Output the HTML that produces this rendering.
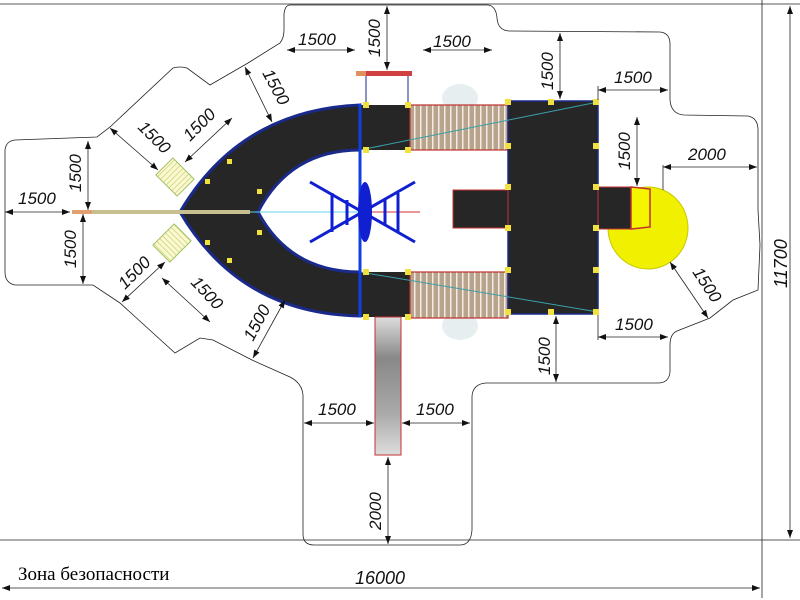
<!DOCTYPE html>
<html><head><meta charset="utf-8"><style>
body{margin:0;background:#fff}
svg{display:block}
.d{font-family:"Liberation Sans",sans-serif;font-style:italic;font-size:17px;fill:#111}
.l{stroke:#222;stroke-width:0.8;fill:none}
</style></head><body>
<svg width="800" height="600" viewBox="0 0 800 600" xmlns="http://www.w3.org/2000/svg">
<defs>
<marker id="a" markerWidth="8" markerHeight="6" refX="8" refY="3" orient="auto-start-reverse" markerUnits="userSpaceOnUse"><path d="M0,0 L8,3 L0,6z" fill="#111"/></marker>
<pattern id="st" width="6" height="10" patternUnits="userSpaceOnUse"><rect width="6" height="10" fill="#b8a48c"/><rect width="1.5" height="10" fill="#f2ece4"/></pattern>
<pattern id="ys" width="10" height="4" patternUnits="userSpaceOnUse"><rect width="10" height="4" fill="#fafad0"/><rect width="10" height="1" fill="#d8d890"/></pattern>
<linearGradient id="gs" x1="0" y1="0" x2="0" y2="1"><stop offset="0" stop-color="#ddd"/><stop offset="0.3" stop-color="#888"/><stop offset="0.7" stop-color="#aaa"/><stop offset="1" stop-color="#ddd"/></linearGradient>
</defs>
<!-- safety zone outline -->
<path class="l" stroke="#444" d="M290,5 L488,5 Q496,6 497,18 Q498,31 510,31 L660,32 Q670,33 670,44 L670,100 Q671,114 684,115 L748,116 Q758,118 758,130 L758,210 L760,245 L758,290 L733,300 L710,318 L677,331 Q670,334 670,345 L670,372 Q669,383 658,383 L486,383 Q473,384 472,396 L472,530 Q471,545 460,545 L314,545 Q303,545 303,534 L303,395 Q302,383 290,377 L252,360 L213,340 L200,338 L175,353 L120,303 L93,285 L15,285 Q5,283 5,272 L5,150 Q6,141 15,140 L97,137 L110,127 L173,68 Q180,66 187,68 L210,85 L248,63 L280,43 Q284,38 284,30 L284,14 Q285,5 290,5 Z"/>
<!-- overall dims -->
<line class="l" x1="0" y1="540" x2="800" y2="540"/>
<line class="l" x1="762" y1="0" x2="762" y2="598"/>
<line class="l" x1="0" y1="4" x2="800" y2="4"/>
<line class="l" x1="790" y1="6" x2="790" y2="538" marker-start="url(#a)" marker-end="url(#a)"/>
<line class="l" x1="2" y1="588" x2="760" y2="588" marker-start="url(#a)" marker-end="url(#a)"/>
<text class="d" x="355" y="584" style="font-size:18px">16000</text>
<text x="18" y="580" style="font-family:'Liberation Serif',serif;font-size:19px">Зона безопасности</text>
<text class="d" transform="translate(787,288) rotate(-90)" style="font-size:18px">11700</text>

<!-- equipment -->
<ellipse cx="460" cy="98" rx="18" ry="14" fill="#e6eef0"/>
<ellipse cx="460" cy="326" rx="18" ry="14" fill="#e6eef0"/>
<path d="M360,105 Q240,110 180,212 Q240,314 360,316 L360,272 Q290,272 258,212 Q290,150 360,150 Z" fill="#262626" stroke="#1a2a8a" stroke-width="3"/>
<rect x="360" y="105" width="50" height="45" fill="#262626"/>
<rect x="360" y="272" width="50" height="45" fill="#262626"/>
<rect x="410" y="105" width="98" height="45" fill="url(#st)" stroke="#c03030" stroke-width="1.2"/>
<rect x="410" y="272" width="98" height="46" fill="url(#st)" stroke="#c03030" stroke-width="1.2"/>
<rect x="508" y="101" width="90" height="213" fill="#262626" stroke="#1a2a8a" stroke-width="1.5"/>
<rect x="453" y="190" width="55" height="38" fill="#262626" stroke="#c03030" stroke-width="1"/>
<ellipse cx="648" cy="228" rx="40" ry="41" fill="#f0f000" stroke="#c8c800"/>
<rect x="598" y="187" width="33" height="42" fill="#262626" stroke="#c03030"/>
<path d="M631,187 L650,189 L650,227 L631,229Z" fill="#f5f500" stroke="#c03030" stroke-width="1.5"/>
<line x1="360" y1="150" x2="598" y2="102" stroke="#3aa0a8"/>
<line x1="360" y1="272" x2="598" y2="312" stroke="#3aa0a8"/>
<rect x="375" y="317" width="26" height="138" fill="url(#gs)" stroke="#c03030"/>
<rect x="356" y="71" width="56" height="5" fill="#d04040"/>
<rect x="356" y="71" width="10" height="5" fill="#e09060"/>
<line x1="366" y1="76" x2="366" y2="105" stroke="#1a2a8a"/>
<line x1="408" y1="76" x2="408" y2="105" stroke="#1a2a8a"/>
<line x1="360" y1="104" x2="360" y2="317" stroke="#1040e0" stroke-width="3"/>
<!-- rod -->
<line x1="72" y1="212" x2="92" y2="212" stroke="#e0a070" stroke-width="4"/>
<line x1="92" y1="212" x2="250" y2="212" stroke="#c8bf90" stroke-width="4"/>
<line x1="250" y1="212" x2="420" y2="212" stroke="#60d0e8" stroke-width="1"/>
<line x1="360" y1="212" x2="420" y2="212" stroke="#d03030" stroke-width="1"/>
<!-- ladders -->
<rect x="163" y="162" width="24" height="30" fill="url(#ys)" stroke="#a0c060" transform="rotate(-45 175 177)"/>
<rect x="160" y="228" width="24" height="30" fill="url(#ys)" stroke="#a0c060" transform="rotate(45 172 243)"/>
<!-- swing -->
<g stroke="#1020d0" stroke-width="3" fill="none">
<line x1="310" y1="182" x2="415" y2="242"/><line x1="310" y1="242" x2="415" y2="182"/>
<path d="M332,193 V232 M347,200 V225 M385,200 V225 M398,193 V232"/>
</g>
<ellipse cx="365" cy="212" rx="7" ry="30" fill="#1020d0"/>
<!-- yellow bolts -->
<g fill="#f0e040">
<rect x="363" y="102" width="6" height="6"/><rect x="405" y="102" width="6" height="6"/><rect x="363" y="147" width="6" height="6"/><rect x="405" y="147" width="6" height="6"/>
<rect x="363" y="269" width="6" height="6"/><rect x="405" y="269" width="6" height="6"/><rect x="363" y="314" width="6" height="6"/><rect x="405" y="314" width="6" height="6"/>
<rect x="505" y="99" width="6" height="6"/><rect x="548" y="99" width="6" height="6"/><rect x="593" y="99" width="6" height="6"/>
<rect x="505" y="143" width="6" height="6"/><rect x="593" y="143" width="6" height="6"/><rect x="505" y="184" width="6" height="6"/><rect x="593" y="184" width="6" height="6"/>
<rect x="505" y="225" width="6" height="6"/><rect x="593" y="225" width="6" height="6"/><rect x="505" y="267" width="6" height="6"/><rect x="593" y="267" width="6" height="6"/>
<rect x="505" y="309" width="6" height="6"/><rect x="548" y="309" width="6" height="6"/><rect x="593" y="309" width="6" height="6"/>
<rect x="227" y="159" width="5" height="5"/><rect x="205" y="179" width="5" height="5"/><rect x="257" y="189" width="5" height="5"/>
<rect x="227" y="258" width="5" height="5"/><rect x="205" y="240" width="5" height="5"/><rect x="257" y="230" width="5" height="5"/>
</g>

<!-- dimension lines -->
<g class="l">
<line x1="287" y1="50" x2="355" y2="50" marker-start="url(#a)" marker-end="url(#a)"/>
<line x1="387" y1="6" x2="387" y2="70" marker-start="url(#a)" marker-end="url(#a)"/>
<line x1="423" y1="50" x2="492" y2="50" marker-start="url(#a)" marker-end="url(#a)"/>
<line x1="560" y1="33" x2="560" y2="99" marker-start="url(#a)" marker-end="url(#a)"/>
<line x1="598" y1="90" x2="668" y2="90" marker-start="url(#a)" marker-end="url(#a)"/>
<line x1="598" y1="86" x2="598" y2="100"/>
<line x1="637" y1="117" x2="637" y2="186" marker-start="url(#a)" marker-end="url(#a)"/>
<line x1="663" y1="167" x2="757" y2="167" marker-start="url(#a)" marker-end="url(#a)"/>
<line x1="663" y1="165" x2="663" y2="190"/>
<line x1="670" y1="262" x2="708" y2="318" marker-start="url(#a)" marker-end="url(#a)"/>
<line x1="598" y1="337" x2="668" y2="337" marker-start="url(#a)" marker-end="url(#a)"/>
<line x1="598" y1="315" x2="598" y2="340"/>
<line x1="556" y1="316" x2="556" y2="382" marker-start="url(#a)" marker-end="url(#a)"/>
<line x1="304" y1="423" x2="374" y2="423" marker-start="url(#a)" marker-end="url(#a)"/>
<line x1="402" y1="423" x2="470" y2="423" marker-start="url(#a)" marker-end="url(#a)"/>
<line x1="388" y1="457" x2="388" y2="544" marker-start="url(#a)" marker-end="url(#a)"/>
<line x1="5" y1="212" x2="70" y2="212" marker-start="url(#a)" marker-end="url(#a)"/>
<line x1="88" y1="141" x2="88" y2="210" marker-start="url(#a)" marker-end="url(#a)"/>
<line x1="83" y1="214" x2="83" y2="284" marker-start="url(#a)" marker-end="url(#a)"/>
<line x1="110" y1="128" x2="158" y2="170" marker-start="url(#a)" marker-end="url(#a)"/>
<line x1="232" y1="118" x2="185" y2="162" marker-start="url(#a)" marker-end="url(#a)"/>
<line x1="245" y1="67" x2="272" y2="122" marker-start="url(#a)" marker-end="url(#a)"/>
<line x1="122" y1="302" x2="165" y2="262" marker-start="url(#a)" marker-end="url(#a)"/>
<line x1="162" y1="278" x2="210" y2="322" marker-start="url(#a)" marker-end="url(#a)"/>
<line x1="253" y1="358" x2="285" y2="300" marker-start="url(#a)" marker-end="url(#a)"/>
</g>
<!-- dimension labels -->
<text class="d" x="298" y="45">1500</text>
<text class="d" transform="translate(380,57) rotate(-90)">1500</text>
<text class="d" x="433" y="47">1500</text>
<text class="d" transform="translate(553,90) rotate(-90)">1500</text>
<text class="d" x="614" y="83">1500</text>
<text class="d" transform="translate(630,170) rotate(-90)">1500</text>
<text class="d" x="688" y="160">2000</text>
<text class="d" transform="translate(692,272) rotate(57)">1500</text>
<text class="d" x="615" y="330">1500</text>
<text class="d" transform="translate(550,375) rotate(-90)">1500</text>
<text class="d" x="318" y="415">1500</text>
<text class="d" x="416" y="415">1500</text>
<text class="d" transform="translate(381,530) rotate(-90)">2000</text>
<text class="d" x="18" y="204">1500</text>
<text class="d" transform="translate(81,192) rotate(-90)">1500</text>
<text class="d" transform="translate(76,268) rotate(-90)">1500</text>
<text class="d" transform="translate(137,128) rotate(45)">1500</text>
<text class="d" transform="translate(190,142) rotate(-45)">1500</text>
<text class="d" transform="translate(262,73) rotate(62)">1500</text>
<text class="d" transform="translate(125,290) rotate(-45)">1500</text>
<text class="d" transform="translate(190,283) rotate(47)">1500</text>
<text class="d" transform="translate(253,342) rotate(-62)">1500</text>
</svg>
</body></html>
